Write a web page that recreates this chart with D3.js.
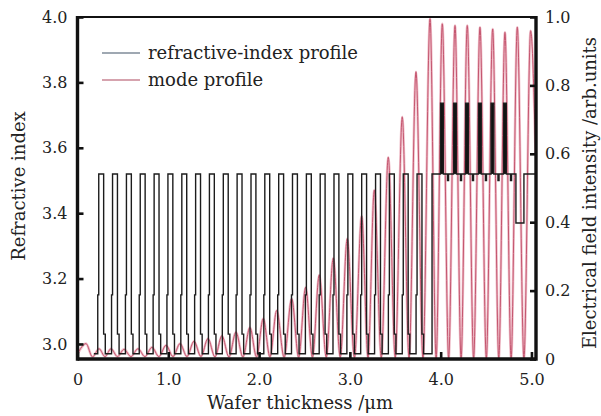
<!DOCTYPE html>
<html>
<head>
<meta charset="utf-8">
<script src="https://cdn.jsdelivr.net/npm/d3@7"></script>
<style>
  body { margin: 0; background: #fff; }
  text { font-family: "DejaVu Serif", serif; fill: #222; }
</style>
</head>
<body>
<div id="chart"></div>
<script>
// refractive-index profile: DBR teeth (centres, um), then active cavity
var dbrStart = 0.18;
var toothCenters = [0.261, 0.413, 0.566, 0.718, 0.871, 1.023, 1.176, 1.328, 1.480, 1.633, 1.785, 1.938,
                    2.090, 2.243, 2.395, 2.548, 2.700, 2.852, 3.005, 3.157, 3.310, 3.462, 3.615, 3.767];
var toothOffsets = [-0.038, -0.027, 0.027, 0.045];
var toothLevels  = [3.15, 3.52, 3.03, 2.97];
var nLow = 2.97;
var cavityStart = 3.905, nCavity = 3.52, profileEnd = 5.05;
var qwCenters = [4.014, 4.158, 4.290, 4.432, 4.570, 4.708], nQW = 3.736, qwWidth = 0.03;
var notchCenters = [4.081, 4.224, 4.356, 4.499, 4.637, 4.775], nNotch = 3.50, notchWidth = 0.012;
var spacerDip = [4.829, 4.917], nSpacer = 3.37;

// mode profile |E|^2 : alternating minima / maxima
var modeX = [0, 0.094, 0.165, 0.237, 0.303, 0.369, 0.44, 0.512, 0.589, 0.666, 0.743, 0.82, 0.897, 0.975, 1.052,
             1.129, 1.206, 1.283, 1.36, 1.437, 1.514, 1.591, 1.668, 1.745, 1.822, 1.899, 1.972, 2.046, 2.12,
             2.194, 2.276, 2.359, 2.436, 2.513, 2.588, 2.663, 2.74, 2.817, 2.894, 2.971, 3.05, 3.13, 3.2,
             3.269, 3.346, 3.423, 3.5, 3.577, 3.652, 3.728, 3.805, 3.883, 3.95, 4.018, 4.088, 4.158, 4.225,
             4.293, 4.363, 4.433, 4.503, 4.573, 4.64, 4.708, 4.776, 4.844, 4.917, 4.991, 5.045];
var modeE = [0.015, 0.045, 0.006, 0.03, 0.007, 0.03, 0.007, 0.028, 0.007, 0.03, 0.007, 0.034, 0.007, 0.04, 0.007,
             0.045, 0.007, 0.052, 0.007, 0.06, 0.006, 0.068, 0.006, 0.078, 0.006, 0.092, 0.006, 0.118, 0.006,
             0.142, 0.005, 0.177, 0.005, 0.21, 0.005, 0.246, 0.005, 0.295, 0.005, 0.352, 0.004, 0.418, 0.004,
             0.494, 0.004, 0.59, 0.004, 0.708, 0.003, 0.84, 0.003, 0.995, 0.002, 0.98, 0.002, 0.975, 0.002,
             0.975, 0.002, 0.97, 0.002, 0.965, 0.002, 0.955, 0.002, 0.97, 0.002, 0.96, 0.6];

var xTicks = [0, 1, 2, 3, 4, 5];
var nTicks = [3.0, 3.2, 3.4, 3.6, 3.8, 4.0];
var eTicks = [0, 0.2, 0.4, 0.6, 0.8, 1.0];
var legendItems = [
  { label: "refractive-index profile", color: "#7f8b99" },
  { label: "mode profile", color: "#c98593" }
];

var W = 601, H = 416;
var pLeft = 77.5, pRight = 536, pTop = 17, pBottom = 359;

var x = d3.scaleLinear().domain([0, 5.05]).range([pLeft, pRight]);
var yN = d3.scaleLinear().domain([2.954, 4.0]).range([pBottom, pTop]);
var yE = d3.scaleLinear().domain([0, 1]).range([pBottom, pTop]);

var svg = d3.select("#chart").append("svg")
    .attr("width", W)
    .attr("height", H);

svg.append("defs").append("clipPath").attr("id", "plot")
  .append("rect")
    .attr("x", pLeft).attr("y", pTop)
    .attr("width", pRight - pLeft).attr("height", pBottom - pTop);

// build step profile (x from which index holds)
var steps = [[dbrStart, nLow]];
toothCenters.forEach(function(c) {
  toothOffsets.forEach(function(o, i) { steps.push([c + o, toothLevels[i]]); });
});
steps.push([cavityStart, nCavity]);
var feats = [];
qwCenters.forEach(function(c) { feats.push([c - qwWidth / 2, c + qwWidth / 2, nQW]); });
notchCenters.forEach(function(c) { feats.push([c - notchWidth / 2, c + notchWidth / 2, nNotch]); });
feats.push([spacerDip[0], spacerDip[1], nSpacer]);
feats.sort(function(a, b) { return a[0] - b[0]; });
feats.forEach(function(f) {
  steps.push([f[0], f[2]]);
  steps.push([f[1], nCavity]);
});
steps.push([profileEnd, nCavity]);

var modeData = modeX.map(function(v, i) { return [v, modeE[i]]; });

var g = svg.append("g").attr("clip-path", "url(#plot)");

var modeLine = d3.line()
    .x(function(d) { return x(d[0]); })
    .y(function(d) { return yE(d[1]); })
    .curve(d3.curveMonotoneX);

g.append("path")
    .datum(modeData)
    .attr("d", modeLine)
    .attr("fill", "none")
    .attr("stroke", "#f0c0cb")
    .attr("stroke-width", 2.6);

g.append("path")
    .datum(modeData)
    .attr("d", modeLine)
    .attr("fill", "none")
    .attr("stroke", "#c4566f")
    .attr("stroke-width", 1);

// quantum wells are solid in the figure
g.selectAll("rect.qw")
    .data(qwCenters)
  .enter().append("rect")
    .attr("class", "qw")
    .attr("x", function(d) { return x(d - qwWidth / 2); })
    .attr("width", function(d) { return x(d + qwWidth / 2) - x(d - qwWidth / 2); })
    .attr("y", yN(nQW))
    .attr("height", yN(nCavity) - yN(nQW))
    .attr("fill", "#111");

g.append("path")
    .datum(steps)
    .attr("d", d3.line()
      .x(function(d) { return x(d[0]); })
      .y(function(d) { return yN(d[1]); })
      .curve(d3.curveStepAfter))
    .attr("fill", "none")
    .attr("stroke", "#1c1c1c")
    .attr("stroke-width", 1.4);

// axes
var fmt = function(d) { return d === 0 ? "0" : d3.format(".1f")(d); };

var ax = svg.append("g")
    .attr("transform", "translate(0," + pBottom + ")")
    .call(d3.axisBottom(x).tickValues(xTicks).tickSize(-7).tickPadding(15).tickFormat(fmt));
var ay = svg.append("g")
    .attr("transform", "translate(" + pLeft + ",0)")
    .call(d3.axisLeft(yN).tickValues(nTicks).tickSize(-6).tickPadding(10).tickFormat(d3.format(".1f")));
var ay2 = svg.append("g")
    .attr("transform", "translate(" + pRight + ",0)")
    .call(d3.axisRight(yE).tickValues(eTicks).tickSize(-6).tickPadding(9).tickFormat(fmt));

[ax, ay, ay2].forEach(function(a) {
  a.select(".domain").remove();
  a.selectAll(".tick line").attr("stroke", "#111").attr("stroke-width", 2.6);
  a.selectAll(".tick text").style("font-size", "16px").style("font-family", "DejaVu Serif").attr("fill", "#222");
});

// frame
svg.append("line").attr("x1", pLeft).attr("x2", pRight).attr("y1", pTop).attr("y2", pTop)
    .attr("stroke", "#111").attr("stroke-width", 2.2);
svg.append("line").attr("x1", pLeft).attr("x2", pRight).attr("y1", pBottom).attr("y2", pBottom)
    .attr("stroke", "#111").attr("stroke-width", 3.4);
svg.append("line").attr("x1", pLeft).attr("x2", pLeft).attr("y1", pTop - 1).attr("y2", pBottom + 1.7)
    .attr("stroke", "#111").attr("stroke-width", 3.4);
svg.append("line").attr("x1", pRight).attr("x2", pRight).attr("y1", pTop - 1).attr("y2", pBottom + 1.7)
    .attr("stroke", "#111").attr("stroke-width", 3.4);

// titles
svg.append("text")
    .attr("x", 300).attr("y", 409)
    .attr("text-anchor", "middle")
    .style("font-size", "18px")
    .text("Wafer thickness /\u03bcm");

svg.append("text")
    .attr("transform", "translate(25,186) rotate(-90)")
    .attr("text-anchor", "middle")
    .style("font-size", "18px")
    .text("Refractive index");

svg.append("text")
    .attr("transform", "translate(596,193) rotate(-90)")
    .attr("text-anchor", "middle")
    .style("font-size", "18px")
    .text("Electrical field intensity /arb.units");

// legend
var leg = svg.append("g");
legendItems.forEach(function(d, i) {
  var yy = 53 + i * 27;
  leg.append("line")
      .attr("x1", 102).attr("x2", 140).attr("y1", yy).attr("y2", yy)
      .attr("stroke", d.color).attr("stroke-width", 1.6);
  leg.append("text")
      .attr("x", 148).attr("y", yy).attr("dy", "0.35em")
      .style("font-size", "18px")
      .text(d.label);
});
</script>
</body>
</html>
